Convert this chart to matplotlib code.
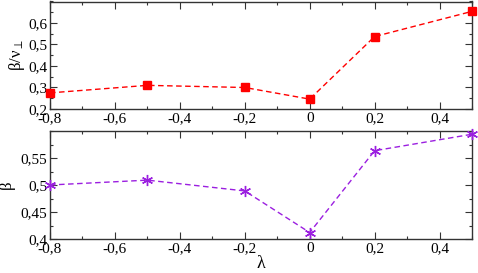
import numpy as np
import matplotlib
matplotlib.use("Agg")
import matplotlib.pyplot as plt
from matplotlib.ticker import MultipleLocator, FuncFormatter

# data
lam = [-0.8, -0.5, -0.2, 0.0, 0.2, 0.5]
beta_nu = [0.275, 0.310, 0.300, 0.246, 0.537, 0.654]
beta = [0.500, 0.509, 0.489, 0.412, 0.5635, 0.594]

plt.rcParams["font.family"] = ["Liberation Serif", "DejaVu Serif"]
plt.rcParams["mathtext.fontset"] = "stix"


def comma(v, pos):
    s = f"{v:.2f}".rstrip("0").rstrip(".")
    if s in ("-0", ""):
        s = "0"
    return s.replace(".", ",")


fig = plt.figure(figsize=(4.78, 2.73), dpi=100)
ax1 = fig.add_axes([50 / 478, 1 - 109 / 273, 422 / 478, 107.5 / 273])
ax2 = fig.add_axes([50 / 478, 1 - 239 / 273, 422 / 478, 108 / 273])

ax1.plot(lam, beta_nu, color="#ff0000", ls=(0, (4, 2.5)), lw=1.0,
         marker="s", ms=6, mec="#ff0000", mfc="#ff0000", clip_on=False, zorder=3)
ax2.plot(lam, beta, color="#9b1fe0", ls=(0, (4, 2.5)), lw=1.0,
         marker=(6, 2, 0), ms=8, mew=1.0, mec="#9b1fe0", clip_on=False, zorder=3)

ax1.set_ylim(0.2, 0.7)
ax2.set_ylim(0.4, 0.6)
ax1.yaxis.set_major_locator(MultipleLocator(0.1))
ax1.yaxis.set_minor_locator(MultipleLocator(0.05))
ax2.yaxis.set_major_locator(MultipleLocator(0.05))
ax2.yaxis.set_minor_locator(MultipleLocator(0.025))

for ax in (ax1, ax2):
    ax.set_xlim(-0.8, 0.5)
    ax.xaxis.set_major_locator(MultipleLocator(0.2))
    ax.xaxis.set_minor_locator(MultipleLocator(0.1))
    ax.xaxis.set_major_formatter(FuncFormatter(comma))
    ax.yaxis.set_major_formatter(FuncFormatter(comma))
    ax.tick_params(which="both", direction="in", top=True, right=True,
                   labelsize=11, width=0.8, color="#333333", pad=2)
    ax.tick_params(which="major", length=5)
    ax.tick_params(which="minor", length=2.5)
    for sp in ax.spines.values():
        sp.set_linewidth(1.0)
        sp.set_color("#333333")

# drop the top label of each y axis so it doesn't crowd the frame
ax1.set_yticks([0.2, 0.3, 0.4, 0.5, 0.6])
ax2.set_yticks([0.4, 0.45, 0.5, 0.55])

ax1.set_ylabel(r"β/ν$_{\perp}$", fontsize=12, labelpad=1)
ax2.set_ylabel("β", fontsize=12, labelpad=4)
ax2.set_xlabel("λ", fontsize=13, labelpad=0)

fig.savefig("out.png", dpi=100)
